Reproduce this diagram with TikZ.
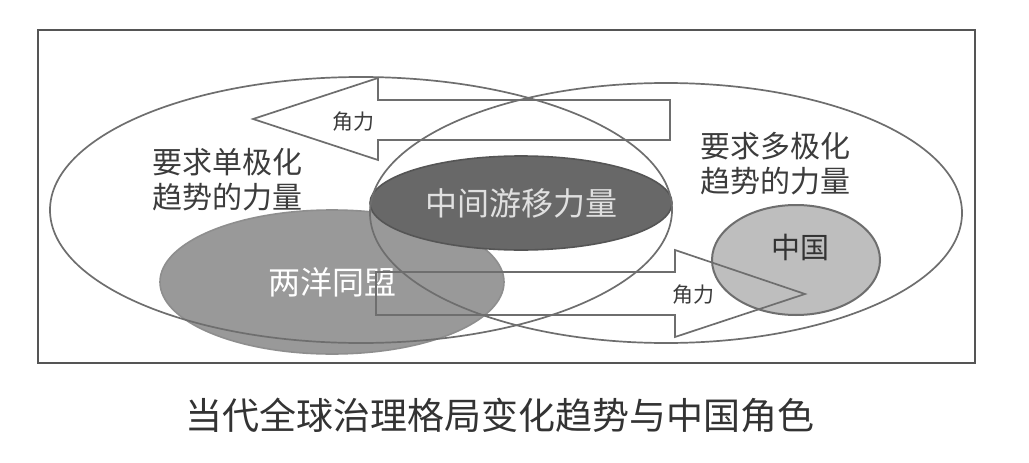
\documentclass[tikz,border=0pt]{standalone}
\usepackage{fontspec}
\setmainfont{Noto Sans CJK SC}
\usetikzlibrary{shapes.geometric}
\definecolor{framec}{HTML}{555555}
\definecolor{linec}{HTML}{6E6E6E}
\definecolor{allyc}{HTML}{8E8E8E}
\definecolor{midc}{HTML}{686868}
\definecolor{chinac}{HTML}{B8B8B8}
\definecolor{txtc}{HTML}{3C3C3C}
\tikzset{
  bigell/.style={ellipse, draw=linec, line width=1.7pt, inner sep=0pt},
  fillell/.style={ellipse, inner sep=0pt, line width=1.6pt},
  arrowshape/.style={draw=linec, line width=1.7pt, line join=miter},
  biglabel/.style={text=txtc, font=\fontsize{30}{35}\selectfont, align=center, inner sep=0pt},
  smalllabel/.style={text=txtc, font=\fontsize{21}{24}\selectfont, inner sep=0pt},
}
\begin{document}
\begin{tikzpicture}[x=1pt,y=-1pt]
\useasboundingbox[fill=white] (0,0) rectangle (1029,463);
% frame
\draw[framec, line width=2pt] (38,30) rectangle (975,363);
% filled ellipses
\node[fillell, fill=allyc, fill opacity=0.9, draw=allyc, minimum width=344pt, minimum height=144pt,
      text=white, text opacity=1, font=\fontsize{32}{36}\selectfont] (ally) at (332,282) {两洋同盟};
\node[fillell, fill=midc, draw=framec, minimum width=302pt, minimum height=94pt,
      text=white!88!black, font=\fontsize{32}{36}\selectfont] (mid) at (521,203) {中间游移力量};
\node[fillell, fill=chinac, fill opacity=0.9, draw=linec, line width=2pt, minimum width=168pt, minimum height=110pt] (china) at (796,260) {};
\node[text=black!80, font=\fontsize{29}{34}\selectfont, inner sep=0pt] (chinat) at (800,247) {中国};
% big outline ellipses
\node[bigell, minimum width=622pt, minimum height=266pt] (uni) at (361,210) {};
\node[bigell, minimum width=592pt, minimum height=260pt] (multi) at (666,213) {};
% top arrow (pointing left)
\coordinate (ta) at (253,119);
\draw[arrowshape] (ta) -- (378,78) -- (378,100) -- (670,100) -- (670,140) -- (378,140) -- (378,160) -- cycle;
\node[smalllabel] (tl) at (353,122) {角力};
% bottom arrow (pointing right)
\coordinate (ba) at (805,294);
\draw[arrowshape] (376,272) -- (675,272) -- (675,250) -- (ba) -- (675,337) -- (675,315) -- (376,315) -- cycle;
\node[smalllabel] (bl) at (693,295) {角力};
% labels
\node[biglabel] (unit) at (227,180) {要求单极化\\趋势的力量};
\node[biglabel] (multit) at (775,164) {要求多极化\\趋势的力量};
% caption
\node[text=black!80, font=\fontsize{37}{42}\selectfont, inner sep=0pt] (cap) at (500,415) {当代全球治理格局变化趋势与中国角色};
\end{tikzpicture}
\end{document}
